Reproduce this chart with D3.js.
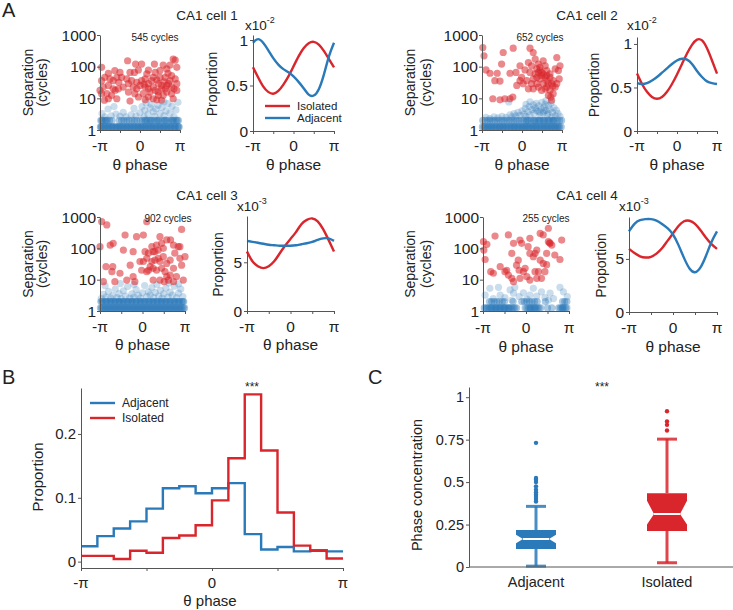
<!DOCTYPE html>
<html><head><meta charset="utf-8">
<script src="https://cdn.jsdelivr.net/npm/d3@7"></script>
<style>body{margin:0;background:#fff} svg{font-family:"Liberation Sans",Arial,sans-serif}</style>
</head><body><svg id="c" width="733" height="610"></svg>
<script>
// ---------------- DATA (phase in units of π) ----------------
const cellTitles = ["CA1 cell 1","CA1 cell 2","CA1 cell 3","CA1 cell 4"];
const cellCycles = ["545 cycles","652 cycles","902 cycles","255 cycles"];
const phaseTicks = [-1,-0.5,0,0.5,1];
const phaseTickLabels = ["-π","","0","","π"];
const sepTicks = [1,10,100,1000];
const sepTickLabels = ["1","10","100","1000"];

// Isolated spikes (red): [phase, separation in cycles]
const cell1Red = [[-0.31,154],[-0.11,121],[0.04,121],[0.36,121],[0.58,112],[0.75,112],[0.83,174],[0.88,160],[0.67,85],[0.5,75],[0.38,66],[0.21,78],[-0.04,78],[-0.14,66],[-0.25,66],[-0.5,66],[-0.63,75],[-0.79,62],[-0.96,36],[-0.88,46],[-0.75,41],[-0.67,36],[-0.58,46],[-0.53,32],[-0.46,46],[-0.33,41],[-0.29,29],[-0.21,36],[-0.08,32],[0.04,36],[0.13,41],[0.21,29],[0.29,36],[0.42,38],[0.5,46],[0.63,46],[0.75,36],[0.88,41],[0.92,29],[0.79,22.6],[0.67,25.5],[0.54,20],[0.46,29],[0.33,22.6],[0.21,20],[0.13,22.6],[0,25.5],[-0.08,20],[-0.17,22.6],[-0.29,15.8],[-0.42,22.6],[-0.54,20],[-0.67,20],[-0.79,25.5],[-0.92,22.6],[-1.0,17.8],[-0.96,14],[-0.83,14],[-0.71,12.4],[-0.89,8.7],[-0.79,9.7],[-0.58,9.7],[-0.25,8.2],[-0.13,14],[0.08,14],[0.21,11],[0.33,9.7],[0.46,12.4],[0.58,12.4],[0.67,15.8],[0.79,14],[0.83,9.7],[0.92,17.8],[0.54,8.7],[0.42,9],[0.13,9],[-0.04,11],[0.25,15.8],[0.38,17.8],[0.54,25.5],[0.71,29],[0.63,20],[0.79,52],[0.33,46],[0.17,59],[0.92,95],[-0.96,95],[-0.62,18],[0.7,62],[0.1,28],[0.45,16],[0.6,33],[0.85,20]];
const cell2Red = [[-0.98,400],[-0.95,220],[-0.9,79],[-0.8,62],[-0.68,36],[-0.62,62],[-0.47,280],[-0.22,385],[-0.51,121],[-0.3,62],[-0.15,66],[-0.05,107],[-0.01,46],[-0.55,35],[-0.73,9.7],[-0.55,9],[-0.43,9.7],[-0.3,9.7],[-0.23,11],[0.2,385],[0.28,280],[0.16,135],[0.075,79],[0.2,66],[0.12,36],[0.24,29],[0.33,174],[0.41,121],[0.37,85],[0.45,95],[0.49,66],[0.53,154],[0.62,75],[0.58,46],[0.7,59],[0.83,85],[0.93,41],[0.91,75],[0.95,107],[0.87,195],[0.37,46],[0.45,41],[0.53,29],[0.62,22.6],[0.7,17.8],[0.66,12.4],[0.74,8.7],[0.72,11],[0.78,14],[0.41,22.6],[0.49,17.8],[0.28,20],[0.33,59],[0.24,107],[0.49,52],[0.58,107],[0.41,66],[0.28,41],[0.62,36],[0.74,29],[0.83,22.6],[-0.05,36],[-0.13,25.5],[0.03,29],[0.16,20],[0.37,29],[0.45,75],[0.53,59],[0.62,52],[0.66,29],[0.58,20],[0.7,46],[0.78,36],[0.87,29],[0.77,24]];
const cell3Red = [[-0.96,710],[-0.84,560],[-1.0,113],[0.1,710],[-0.76,126],[-0.69,145],[-0.86,26],[-0.7,26],[-0.72,18],[-0.92,8.6],[-0.65,8.6],[-0.37,9.7],[-0.53,16],[-0.41,265],[-0.14,235],[-0.22,78],[-0.45,88],[-0.29,29],[-0.22,12.5],[-0.18,8.6],[-0.02,20],[0.02,265],[0.06,78],[0.14,70],[0.22,113],[0.25,78],[0.33,126],[0.41,235],[0.45,145],[0.49,100],[0.57,185],[0.66,185],[0.73,126],[0.84,113],[0.92,400],[0.88,113],[0.88,48],[1.0,54],[0.92,29],[0.96,9.7],[0.8,12.5],[0.65,14],[0.53,18],[0.45,23],[0.33,20],[0.25,23],[0.18,26],[0.22,38],[0.29,42],[0.37,48],[0.41,38],[0.49,54],[0.57,33],[0.65,42],[0.73,23],[0.57,12.5],[0.41,9.7],[0.25,9.7],[0.1,18],[-0.06,38],[0.1,48],[0.14,20],[0.51,8.6],[0.61,9.7],[0.73,8.6],[0.76,70],[0.02,38],[0.29,78],[0.37,88]];
const cell4Red = [[-0.99,163],[-0.91,134],[-0.72,247],[-0.41,267],[-0.98,88],[-0.95,44],[-0.82,18],[-0.76,16],[-0.6,26],[-0.49,18],[-0.45,20],[-0.41,14],[-0.33,11],[-0.29,8.6],[-0.22,29],[-0.18,42],[-0.16,20],[-0.14,183],[-0.1,144],[-0.29,144],[0.05,113],[0.09,208],[0.17,54],[0.21,69],[0.25,88],[0.29,18],[0.33,300],[0.4,267],[0.48,69],[0.52,163],[0.56,144],[0.6,127],[0.67,61],[0.79,44],[0.83,183],[0.52,437],[0.33,42],[0.4,33],[0.48,30],[0.44,18],[0.36,11],[0.25,11],[0.09,9.7],[0.02,12.5],[-0.06,18],[0.21,18],[-0.14,11],[-0.02,23],[-0.33,69],[0.09,69],[0.55,150]];

// Adjacent spikes (blue): phases of the two dense rows, plus scattered points
const cell1BlueRow1 = [-0.99,-0.95,-0.9,-0.86,-0.81,-0.77,-0.72,-0.68,-0.63,-0.58,-0.54,-0.49,-0.45,-0.4,-0.35,-0.31,-0.26,-0.21,-0.17,-0.12,-0.07,-0.03,0.02,0.06,0.11,0.15,0.2,0.25,0.29,0.34,0.38,0.43,0.48,0.52,0.57,0.61,0.66,0.71,0.75,0.8,0.85,0.89,0.94,0.98,-0.97,-0.88,-0.79,-0.7,-0.6,-0.51,-0.42,-0.33,-0.24,-0.14,-0.05,0.04,0.13,0.22,0.31,0.41,0.5,0.59,0.68,0.77,0.87,0.96];
const cell1BlueRow2 = [-0.98,-0.93,-0.87,-0.82,-0.76,-0.7,-0.52,-0.46,-0.4,-0.33,-0.27,-0.2,-0.14,-0.08,0.0,0.06,0.12,0.18,0.24,0.3,0.36,0.42,0.48,0.54,0.6,0.66,0.72,0.78,0.84,0.9,0.96,-0.95,-0.85,0.15,0.27,0.45,0.63,0.81,0.93];
const cell1BlueScatter = [[-0.95,3.3],[-0.88,2.6],[-0.8,4.6],[-0.72,2.8],[-0.6,3.2],[-0.5,2.7],[-0.42,3.6],[-0.35,2.6],[-0.22,3.0],[-0.1,2.8],[0.0,3.5],[0.05,5.5],[0.12,4.2],[0.15,7.2],[0.2,3.1],[0.25,5.0],[0.28,6.5],[0.33,3.8],[0.37,2.7],[0.4,4.6],[0.45,6.0],[0.5,3.3],[0.55,5.2],[0.6,2.8],[0.65,4.0],[0.7,6.8],[0.75,3.4],[0.8,5.6],[0.85,2.6],[0.9,4.3],[0.95,7.5],[-0.15,4.8],[-0.65,5.5],[0.1,2.6],[0.6,7.8]];
const cell2BlueRow1 = [-0.99,-0.95,-0.9,-0.86,-0.81,-0.77,-0.72,-0.68,-0.63,-0.58,-0.54,-0.49,-0.45,-0.4,-0.35,-0.31,-0.26,-0.21,-0.17,-0.12,-0.07,-0.03,0.02,0.06,0.11,0.15,0.2,0.25,0.29,0.34,0.38,0.43,0.48,0.52,0.57,0.61,0.66,0.71,0.75,0.8,0.85,0.89,0.94,0.98,-0.93,-0.84,-0.75,-0.65,-0.56,-0.47,-0.38,-0.28,-0.19,-0.1,0.0,0.09,0.18,0.27,0.36,0.45,0.55,0.64,0.73,0.82,0.91];
const cell2BlueRow2 = [-0.98,-0.92,-0.86,-0.8,-0.74,-0.68,-0.62,-0.56,-0.5,-0.44,-0.38,-0.32,-0.26,-0.2,-0.14,-0.08,-0.02,0.04,0.1,0.16,0.22,0.28,0.34,0.4,0.46,0.52,0.58,0.64,0.7,0.76,0.82,0.88,0.94,0.99,0.13,0.31,0.43,0.55,0.67,0.79];
const cell2BlueScatter = [[-0.9,2.5],[-0.8,2.3],[-0.7,2.6],[-0.6,2.4],[-0.5,2.7],[-0.4,2.5],[-0.3,3.0],[-0.25,2.6],[-0.2,3.3],[-0.15,2.8],[-0.1,3.6],[-0.05,2.9],[0.0,4.0],[0.05,3.2],[0.08,4.8],[0.1,2.7],[0.15,3.8],[0.18,5.5],[0.2,3.0],[0.25,4.4],[0.28,6.2],[0.3,3.4],[0.33,5.0],[0.36,7.0],[0.4,3.9],[0.42,5.8],[0.45,2.9],[0.48,4.6],[0.5,7.5],[0.53,3.5],[0.55,5.3],[0.58,6.5],[0.6,4.1],[0.63,3.0],[0.66,5.9],[0.7,4.5],[0.73,7.2],[0.76,3.6],[0.8,5.0],[0.83,2.8],[0.86,4.2],[0.9,3.3],[0.95,2.7],[-0.33,7.7],[0.1,6.5],[0.6,8.5],[0.2,7.8],[0.35,4.2],[0.45,3.6],[0.55,4.0],[0.65,3.4],[0.75,2.6]];
const cell3BlueRow1 = [-0.99,-0.96,-0.93,-0.9,-0.87,-0.84,-0.81,-0.78,-0.75,-0.72,-0.69,-0.66,-0.63,-0.6,-0.57,-0.54,-0.51,-0.48,-0.45,-0.42,-0.39,-0.36,-0.33,-0.3,-0.27,-0.24,-0.21,-0.18,-0.15,-0.12,-0.09,-0.06,-0.03,0.0,0.03,0.06,0.09,0.12,0.15,0.18,0.21,0.24,0.27,0.3,0.33,0.36,0.39,0.42,0.45,0.48,0.51,0.54,0.57,0.6,0.63,0.66,0.69,0.72,0.75,0.78,0.81,0.84,0.87,0.9,0.93,0.96,0.99];
const cell3BlueRow2 = [-0.98,-0.93,-0.88,-0.83,-0.78,-0.73,-0.68,-0.63,-0.58,-0.53,-0.48,-0.43,-0.38,-0.33,-0.28,-0.23,-0.18,-0.13,-0.08,-0.03,0.02,0.07,0.12,0.17,0.22,0.27,0.32,0.37,0.42,0.47,0.52,0.57,0.62,0.67,0.72,0.77,0.82,0.87,0.92,0.97,-0.95,-0.85,-0.75,-0.65,-0.55,-0.45,-0.35,-0.25,-0.15,-0.05,0.05,0.15,0.25,0.35,0.45,0.55,0.65,0.75,0.85,0.95];
const cell3BlueScatter = [[-0.97,2.5],[-0.92,3.4],[-0.86,2.8],[-0.8,4.2],[-0.75,2.6],[-0.7,3.1],[-0.64,5.0],[-0.6,2.7],[-0.55,3.6],[-0.5,2.5],[-0.45,4.4],[-0.4,3.0],[-0.35,6.0],[-0.3,2.6],[-0.25,3.5],[-0.2,2.8],[-0.15,4.8],[-0.1,3.2],[-0.05,2.6],[0.0,3.8],[0.05,6.5],[0.1,2.9],[0.14,4.1],[0.18,3.3],[0.22,5.6],[0.26,2.7],[0.3,3.9],[0.34,7.0],[0.38,3.0],[0.42,4.6],[0.46,2.6],[0.5,3.5],[0.55,5.4],[0.6,2.8],[0.65,4.0],[0.7,3.2],[0.75,6.2],[0.8,2.7],[0.85,3.7],[0.9,5.0],[0.95,2.9],[-0.88,6.4],[-0.52,7.5],[0.62,7.8],[-0.2,7.0],[0.85,7.3]];
const cell4BlueRow1 = [-0.97,-0.93,-0.9,-0.86,-0.82,-0.78,-0.74,-0.7,-0.66,-0.62,-0.58,-0.54,-0.5,-0.46,-0.42,-0.38,-0.34,-0.3,-0.26,-0.22,-0.02,0.02,0.06,0.1,0.14,0.18,0.22,0.26,0.3,0.34,0.76,0.8,0.84,0.88,0.92,0.95,-0.8,-0.7,-0.6,-0.5,-0.4,0.1,0.2,0.85,0.5,0.6];
const cell4BlueRow2 = [-0.85,-0.8,-0.74,-0.68,-0.62,-0.55,-0.5,-0.1,-0.04,0.02,0.08,0.14,0.2,0.26,0.85,0.9,0.95,-0.3,0.45];
const cell4BlueScatter = [[-0.84,5.3],[-0.64,5.7],[-0.6,3.2],[-0.49,2.7],[-0.37,4.7],[-0.26,5.7],[-0.16,2.9],[-0.06,3.8],[0.09,3.2],[0.17,5.3],[0.36,4.1],[0.44,2.7],[0.56,3.7],[0.64,2.5],[0.79,5.7],[0.87,4.1],[0.96,2.9],[-0.76,2.5],[-0.33,2.2],[0.02,2.4],[0.52,2.2],[-0.95,3.2],[-0.29,3.7],[0.25,3.0]];
const blueRowSeparations = [1.25, 2];

// Smoothed phase distributions (A, right panels)
const propPhases = [-1,-0.875,-0.75,-0.625,-0.5,-0.375,-0.25,-0.125,0,0.125,0.25,0.375,0.5,0.625,0.75,0.875,1];
const cell1PropIsolated = [0.70,0.59,0.49,0.43,0.41,0.44,0.51,0.60,0.71,0.82,0.91,0.965,0.98,0.95,0.88,0.79,0.70];
const cell1PropAdjacent = [0.97,1.01,0.97,0.89,0.80,0.73,0.68,0.645,0.60,0.54,0.47,0.40,0.39,0.46,0.62,0.82,0.97];
const cell2PropIsolated = [0.66,0.54,0.45,0.39,0.37,0.39,0.45,0.54,0.65,0.77,0.89,0.99,1.05,1.04,0.95,0.81,0.66];
const cell2PropAdjacent = [0.55,0.54,0.55,0.58,0.62,0.67,0.72,0.77,0.81,0.83,0.82,0.77,0.69,0.62,0.57,0.55,0.54];
const cell3PropIsolated = [6.1,5.1,4.6,4.4,4.6,5.1,5.9,6.7,7.4,8.1,8.9,9.35,9.5,9.2,8.4,7.3,6.1];
const cell3PropAdjacent = [7.2,7.1,7.0,6.9,6.8,6.75,6.7,6.7,6.7,6.75,6.85,6.95,7.1,7.3,7.45,7.45,7.2];
const cell4PropIsolated = [5.95,5.55,5.25,5.13,5.2,5.5,6.0,6.7,7.4,8.1,8.55,8.6,8.3,7.7,7.0,6.4,5.95];
const cell4PropAdjacent = [7.6,8.3,8.65,8.75,8.75,8.6,8.3,7.9,7.3,6.3,5.1,4.1,3.75,4.2,5.3,6.6,7.6];
const propMax = [1.055, 1.08, 9.75, 8.95];
const propTicks = [[0,0.5,1],[0,0.5,1],[0,5],[0,5]];
const propTickLabels = [["0","0.5","1"],["0","0.5","1"],["0","5"],["0","5"]];
const propExponent = ["-2","-2","-3","-3"];

// Panel B histogram (16 bins from -π to π)
const histEdges = [-1,-0.875,-0.75,-0.625,-0.5,-0.375,-0.25,-0.125,0,0.125,0.25,0.375,0.5,0.625,0.75,0.875,1];
const histAdjacent = [0.024,0.040,0.052,0.063,0.083,0.115,0.118,0.107,0.115,0.123,0.043,0.019,0.023,0.016,0.018,0.016];
const histIsolated = [0.009,0.009,0.004,0.017,0.014,0.037,0.041,0.057,0.096,0.162,0.262,0.174,0.077,0.025,0.017,0.005];
const histYTicks = [0,0.1,0.2];
const histYTickLabels = ["0","0.1","0.2"];

// Panel C box plots
const boxCategories = ["Adjacent","Isolated"];
const boxQ1 = [0.106, 0.212];
const boxMedian = [0.165, 0.312];
const boxQ3 = [0.218, 0.435];
const boxNotchLow = [0.140, 0.250];
const boxNotchHigh = [0.190, 0.390];
const boxWhiskerLow = [0.005, 0.025];
const boxWhiskerHigh = [0.357, 0.753];
const boxOutliers = [[0.386,0.40,0.412,0.425,0.439,0.455,0.475,0.50,0.514,0.524,0.731],[0.804,0.837,0.857,0.917]];
const boxYTicks = [0,0.25,0.5,0.75,1];
const boxYTickLabels = ["0","0.25","0.5","0.75","1"];

// ---------------- DRAWING ----------------
const BLUE = "#2a79b9", RED = "#d9262c", AX = "#555", TXT = "#222";
const svg = d3.select("#c");

const layouts = [
 {title:[207,15], s:{x0:100,x1:180,y0:35,y1:130}, p:{x0:253,x1:334,y0:35,y1:131}, sep:[28,42], pl:212, exp:[245,25], cyc:[155,37], xt:145, xl:164},
 {title:[587,15], s:{x0:482,x1:562,y0:35,y1:130}, p:{x0:637,x1:717,y0:37,y1:131}, sep:[410,426], pl:594, exp:[627,25], cyc:[540,37], xt:145, xl:164},
 {title:[207,195], s:{x0:100,x1:185,y0:217,y1:311}, p:{x0:247,x1:334,y0:216,y1:311}, sep:[28,42], pl:218, exp:[237,206], cyc:[168,218], xt:326, xl:344},
 {title:[587,195], s:{x0:483,x1:569,y0:217,y1:311}, p:{x0:629,x1:717,y0:217,y1:312}, sep:[410,426], pl:601, exp:[619,206], cyc:[546,218], xt:327, xl:346}
];
const reds = [cell1Red, cell2Red, cell3Red, cell4Red];
const rows1 = [cell1BlueRow1, cell2BlueRow1, cell3BlueRow1, cell4BlueRow1];
const rows2 = [cell1BlueRow2, cell2BlueRow2, cell3BlueRow2, cell4BlueRow2];
const blueScat = [cell1BlueScatter, cell2BlueScatter, cell3BlueScatter, cell4BlueScatter];
const propIso = [cell1PropIsolated, cell2PropIsolated, cell3PropIsolated, cell4PropIsolated];
const propAdj = [cell1PropAdjacent, cell2PropAdjacent, cell3PropAdjacent, cell4PropAdjacent];

function styleAxis(g){
  g.select("path.domain").attr("stroke", AX).attr("stroke-width", 1);
  g.selectAll(".tick line").attr("stroke", AX);
  g.selectAll(".tick text").remove();
}
function text(x, y, s, size, anchor){
  return svg.append("text").attr("x", x).attr("y", y).attr("font-size", size)
    .attr("fill", TXT).attr("text-anchor", anchor || "middle").attr("dominant-baseline", "central").text(s);
}
function vtext(x, y, s, size){
  svg.append("text").attr("transform", `translate(${x},${y}) rotate(-90)`).attr("font-size", size)
    .attr("fill", TXT).attr("text-anchor", "middle").attr("dominant-baseline", "central").text(s);
}

svg.append("text").attr("x", 2).attr("y", 17).attr("font-size", 20).attr("fill", TXT).text("A");
svg.append("text").attr("x", 2).attr("y", 384).attr("font-size", 20).attr("fill", TXT).text("B");
svg.append("text").attr("x", 368).attr("y", 384).attr("font-size", 20).attr("fill", TXT).text("C");

layouts.forEach((L, i) => {
  text(L.title[0], L.title[1], cellTitles[i], 13.5);
  // ---- scatter ----
  const x = d3.scaleLinear().domain([-1, 1]).range([L.s.x0, L.s.x1]);
  const y = d3.scaleLog().domain([1, 1000]).range([L.s.y1, L.s.y0]);
  const rowPts = rows1[i].map(p => [p, blueRowSeparations[0]])
    .concat(rows2[i].map(p => [p, blueRowSeparations[1]]));
  svg.append("g").selectAll("circle").data(blueScat[i]).join("circle")
    .attr("cx", d => x(d[0])).attr("cy", d => y(d[1])).attr("r", 3.6)
    .attr("fill", BLUE).attr("fill-opacity", 0.25);
  svg.append("g").selectAll("circle").data(rowPts).join("circle")
    .attr("cx", d => x(d[0])).attr("cy", d => y(d[1])).attr("r", 3.6)
    .attr("fill", BLUE).attr("fill-opacity", 0.4);
  svg.append("g").selectAll("circle").data(reds[i]).join("circle")
    .attr("cx", d => x(d[0])).attr("cy", d => y(d[1])).attr("r", 3.6)
    .attr("fill", RED).attr("fill-opacity", 0.55);
  svg.append("g").attr("transform", `translate(0,${L.s.y1})`)
    .call(d3.axisBottom(x).tickValues(phaseTicks).tickSize(3).tickSizeOuter(0)).call(styleAxis);
  svg.append("g").attr("transform", `translate(${L.s.x0},0)`)
    .call(d3.axisLeft(y).tickValues(sepTicks).tickSize(3).tickSizeOuter(0)).call(styleAxis);
  sepTicks.forEach((v, k) => text(L.s.x0 - 4, y(v), sepTickLabels[k], 15.5, "end"));
  phaseTicks.forEach((v, k) => { if (phaseTickLabels[k]) text(x(v), L.xt, phaseTickLabels[k], 15.5); });
  text((L.s.x0 + L.s.x1) / 2, L.xl, "θ phase", 15.5);
  vtext(L.sep[0], (L.s.y0 + L.s.y1) / 2, "Separation", 14);
  vtext(L.sep[1], (L.s.y0 + L.s.y1) / 2, "(cycles)", 14);
  text(L.cyc[0], L.cyc[1], cellCycles[i], 10);
  // ---- proportion ----
  const px = d3.scaleLinear().domain([-1, 1]).range([L.p.x0, L.p.x1]);
  const py = d3.scaleLinear().domain([0, propMax[i]]).range([L.p.y1, L.p.y0]);
  const line = d3.line().x((d, k) => px(propPhases[k])).y(d => py(d)).curve(d3.curveNatural);
  svg.append("path").attr("d", line(propIso[i])).attr("fill", "none").attr("stroke", RED).attr("stroke-width", 2.4);
  svg.append("path").attr("d", line(propAdj[i])).attr("fill", "none").attr("stroke", BLUE).attr("stroke-width", 2.4);
  svg.append("g").attr("transform", `translate(0,${L.p.y1})`)
    .call(d3.axisBottom(px).tickValues(phaseTicks).tickSize(3).tickSizeOuter(0)).call(styleAxis);
  svg.append("g").attr("transform", `translate(${L.p.x0},0)`)
    .call(d3.axisLeft(py).tickValues(propTicks[i]).tickSize(3).tickSizeOuter(0)).call(styleAxis);
  propTicks[i].forEach((v, k) => text(L.p.x0 - 5, py(v), propTickLabels[i][k], 15.5, "end"));
  phaseTicks.forEach((v, k) => { if (phaseTickLabels[k]) text(px(v), L.xt, phaseTickLabels[k], 15.5); });
  text((L.p.x0 + L.p.x1) / 2, L.xl, "θ phase", 15.5);
  vtext(L.pl, (L.p.y0 + L.p.y1) / 2 + 1, "Proportion", 14);
  const e = svg.append("text").attr("x", L.exp[0]).attr("y", L.exp[1]).attr("font-size", 13.5)
    .attr("fill", TXT).attr("dominant-baseline", "central");
  e.append("tspan").text("x10");
  e.append("tspan").attr("font-size", 9).attr("dy", -5).text(propExponent[i]);
  if (i === 0) {
    [["Isolated", RED, 106], ["Adjacent", BLUE, 118]].forEach(([lab, c, yy]) => {
      svg.append("line").attr("x1", 265).attr("x2", 290).attr("y1", yy).attr("y2", yy).attr("stroke", c).attr("stroke-width", 2.4);
      text(297, yy, lab, 11.5, "start");
    });
  }
});

// ---------------- Panel B ----------------
{
  const x = d3.scaleLinear().domain([-1, 1]).range([81, 343]);
  const y = d3.scaleLinear().domain([-0.01, 0.272]).range([568, 388]);
  const step = d3.line().x(d => x(d[0])).y(d => y(d[1])).curve(d3.curveStepAfter);
  const mk = vals => histEdges.map((e, k) => [e, vals[Math.min(k, vals.length - 1)]]);
  svg.append("path").attr("d", step(mk(histAdjacent))).attr("fill", "none").attr("stroke", BLUE).attr("stroke-width", 2.4);
  svg.append("path").attr("d", step(mk(histIsolated))).attr("fill", "none").attr("stroke", RED).attr("stroke-width", 2.4);
  svg.append("g").attr("transform", "translate(0,568)")
    .call(d3.axisBottom(x).tickValues(phaseTicks).tickSize(3).tickSizeOuter(0)).call(styleAxis);
  svg.append("g").attr("transform", "translate(81,0)")
    .call(d3.axisLeft(y).tickValues(histYTicks).tickSize(3).tickSizeOuter(0)).call(styleAxis);
  histYTicks.forEach((v, k) => text(76, y(v), histYTickLabels[k], 15, "end"));
  phaseTicks.forEach((v, k) => { if (phaseTickLabels[k]) text(x(v), 582, phaseTickLabels[k], 15); });
  text(210, 600, "θ phase", 15);
  vtext(37, 477, "Proportion", 15);
  text(252, 387, "***", 12);
  [["Adjacent", BLUE, 403], ["Isolated", RED, 418]].forEach(([lab, c, yy]) => {
    svg.append("line").attr("x1", 90).attr("x2", 115).attr("y1", yy).attr("y2", yy).attr("stroke", c).attr("stroke-width", 2.4);
    text(122, yy, lab, 12, "start");
  });
}

// ---------------- Panel C ----------------
{
  const x = d3.scalePoint().domain(boxCategories).range([536, 667]);
  const y = d3.scaleLinear().domain([0, 1.06]).range([567, 387]);
  const colors = [BLUE, RED];
  const bw = 40, inset = 7, cap = 20;
  boxCategories.forEach((c, i) => {
    const cx = x(c), col = colors[i];
    svg.append("line").attr("x1", cx).attr("x2", cx).attr("y1", y(boxQ3[i])).attr("y2", y(boxWhiskerHigh[i]))
      .attr("stroke", col).attr("stroke-width", 3).attr("stroke-opacity", 0.85);
    svg.append("line").attr("x1", cx).attr("x2", cx).attr("y1", y(boxQ1[i])).attr("y2", y(boxWhiskerLow[i]))
      .attr("stroke", col).attr("stroke-width", 3).attr("stroke-opacity", 0.85);
    [boxWhiskerHigh[i], boxWhiskerLow[i]].forEach(v => svg.append("line")
      .attr("x1", cx - cap / 2).attr("x2", cx + cap / 2).attr("y1", y(v)).attr("y2", y(v))
      .attr("stroke", col).attr("stroke-width", 3).attr("stroke-opacity", 0.85));
    const l = cx - bw / 2, r = cx + bw / 2;
    const pts = [[l, y(boxQ1[i])], [l, y(boxNotchLow[i])], [l + inset, y(boxMedian[i])], [l, y(boxNotchHigh[i])],
      [l, y(boxQ3[i])], [r, y(boxQ3[i])], [r, y(boxNotchHigh[i])], [r - inset, y(boxMedian[i])], [r, y(boxNotchLow[i])], [r, y(boxQ1[i])]];
    svg.append("path").attr("d", d3.line()(pts) + "Z").attr("fill", col);
    svg.append("line").attr("x1", l + inset).attr("x2", r - inset).attr("y1", y(boxMedian[i])).attr("y2", y(boxMedian[i]))
      .attr("stroke", "#fff").attr("stroke-width", 2);
    svg.append("g").selectAll("circle").data(boxOutliers[i]).join("circle")
      .attr("cx", cx).attr("cy", d => y(d)).attr("r", 2.2).attr("fill", col);
    text(cx, 582, c, 14.5);
  });
  svg.append("line").attr("x1", 469).attr("x2", 733).attr("y1", 567).attr("y2", 567).attr("stroke", AX);
  svg.append("g").attr("transform", "translate(469,0)")
    .call(d3.axisLeft(y).tickValues(boxYTicks).tickSize(3).tickSizeOuter(0)).call(styleAxis);
  boxYTicks.forEach((v, k) => text(464, y(v), boxYTickLabels[k], 14.5, "end"));
  vtext(417, 485, "Phase concentration", 14.5);
  text(602, 387, "***", 12);
}
</script></body></html>
